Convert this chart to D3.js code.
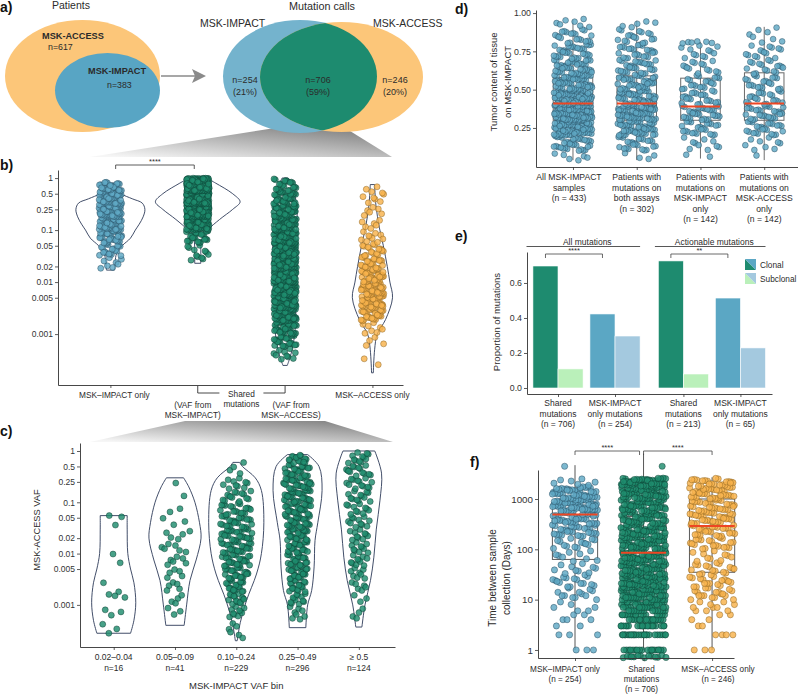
<!DOCTYPE html>
<html>
<head>
<meta charset="utf-8">
<script src="https://cdn.jsdelivr.net/npm/d3@7/dist/d3.min.js"></script>
<style>
html,body{margin:0;padding:0;background:#fff;}
svg{display:block;}
</style>
</head>
<body>
<svg id="fig" width="798" height="696"></svg>
<script>
// ================= DATA =================
// Panel a – Venn counts
const patientLabels = ["MSK-ACCESS", "MSK-IMPACT"];
const patientN = [617, 383];
const callLabels = ["MSK-IMPACT", "MSK-ACCESS"];
const callN = [254, 706, 246];
const callPct = [21, 59, 20];

// Panel b – VAF by call group (histograms: [log10 lo, log10 hi, count])
const bTickVals = [0.001, 0.005, 0.01, 0.02, 0.05, 0.1, 0.25, 0.5, 1];
const bTickLabels = ["0.001", "0.005", "0.01", "0.02", "0.05", "0.1", "0.25", "0.5", "1"];
const bBinsImpactOnly = [[-1.75,-1.5,8],[-1.5,-1.25,20],[-1.25,-1.0,35],[-1.0,-0.75,50],[-0.75,-0.5,60],[-0.5,-0.25,55],[-0.25,-0.07,26]];
const bBinsSharedImpact = [[-1.6,-1.25,12],[-1.25,-1.0,24],[-1.0,-0.75,90],[-0.75,-0.5,170],[-0.5,-0.25,200],[-0.25,0,210]];
const bBinsSharedAccess = [[-3.5,-3.25,10],[-3.25,-3,25],[-3,-2.75,40],[-2.75,-2.5,55],[-2.5,-2.25,65],[-2.25,-2,70],[-2,-1.75,75],[-1.75,-1.5,75],[-1.5,-1.25,70],[-1.25,-1,65],[-1,-0.75,55],[-0.75,-0.5,45],[-0.5,-0.25,35],[-0.25,0,21]];
const bBinsAccessOnly = [[-3.7,-3.25,2],[-3.25,-3,4],[-3,-2.75,8],[-2.75,-2.5,30],[-2.5,-2.25,45],[-2.25,-2,45],[-2,-1.75,38],[-1.75,-1.5,25],[-1.5,-1.25,17],[-1.25,-1,10],[-1,-0.75,6],[-0.75,-0.5,6],[-0.5,-0.12,10]];
// violin outlines: [VAF, relative half-width]
const bViolinImpactOnly = [[0.8,.11],[0.6,.18],[0.5,.25],[0.4,.5],[0.33,.73],[0.25,.79],[0.18,.75],[0.13,.66],[0.1,.57],[0.07,.46],[0.05,.27],[0.035,.14],[0.025,.11],[0.017,.09]];
const bViolinSharedImpact = [[0.95,.25],[0.8,.41],[0.5,.8],[0.35,.97],[0.25,.8],[0.16,.5],[0.1,.23],[0.065,.09],[0.036,.07],[0.023,.07]];
const bViolinSharedAccess = [[1,.07],[0.6,.18],[0.3,.27],[0.1,.27],[0.03,.29],[0.01,.27],[0.003,.25],[0.001,.22],[0.0005,.16],[0.00035,.11],[0.00025,.05]];
const bViolinAccessOnly = [[0.75,.05],[0.3,.08],[0.11,.16],[0.05,.25],[0.02,.34],[0.01,.4],[0.005,.46],[0.0019,.3],[0.001,.11],[0.0005,.05],[0.00018,.02]];

// Panel c – MSK-ACCESS VAF by MSK-IMPACT VAF bin
const cCats = ["0.02–0.04", "0.05–0.09", "0.10–0.24", "0.25–0.49", "≥ 0.5"];
const cN = [16, 41, 229, 296, 124];
const cBin1Vaf = [0.052,0.036,0.055,0.0066,0.0098,0.0027,0.0018,0.0016,0.0014,0.0015,0.0008,0.00073,0.00063,0.00042,0.00034,0.00028];
const cBins2 = [[-3.25,-3,3],[-3,-2.75,4],[-2.75,-2.5,5],[-2.5,-2.25,5],[-2.25,-2,6],[-2,-1.75,6],[-1.75,-1.5,5],[-1.5,-1.25,3],[-1.25,-1,2],[-1,-0.75,1],[-0.75,-0.5,1]];
const cBins3 = [[-3.7,-3.25,6],[-3.25,-3,10],[-3,-2.75,14],[-2.75,-2.5,20],[-2.5,-2.25,24],[-2.25,-2,26],[-2,-1.75,28],[-1.75,-1.5,28],[-1.5,-1.25,25],[-1.25,-1,20],[-1,-0.75,14],[-0.75,-0.5,10],[-0.5,-0.25,3],[-0.25,-0.2,1]];
const cBins4 = [[-3.3,-3,8],[-3,-2.75,12],[-2.75,-2.5,18],[-2.5,-2.25,22],[-2.25,-2,24],[-2,-1.75,25],[-1.75,-1.5,27],[-1.5,-1.25,28],[-1.25,-1,30],[-1,-0.75,32],[-0.75,-0.5,30],[-0.5,-0.25,25],[-0.25,-0.07,15]];
const cBins5 = [[-3.3,-3,4],[-3,-2.75,3],[-2.75,-2.5,6],[-2.5,-2.25,8],[-2.25,-2,10],[-2,-1.75,10],[-1.75,-1.5,10],[-1.5,-1.25,11],[-1.25,-1,11],[-1,-0.75,12],[-0.75,-0.5,13],[-0.5,-0.25,14],[-0.25,0,12]];
const cViolins = [
  [[0.055,.44],[0.03,.44],[0.01,.46],[0.005,.55],[0.0027,.66],[0.0011,.72],[0.0005,.66],[0.00028,.55]],
  [[0.3,.28],[0.2,.45],[0.1,.65],[0.04,.8],[0.02,.85],[0.0075,.69],[0.003,.49],[0.001,.38],[0.0004,.3]],
  [[0.6,.11],[0.5,.2],[0.3,.62],[0.17,.82],[0.04,.9],[0.01,.82],[0.004,.66],[0.0012,.33],[0.00045,.13],[0.0002,.03]],
  [[0.85,.33],[0.5,.7],[0.17,.8],[0.04,.66],[0.018,.57],[0.0055,.54],[0.0019,.46],[0.001,.33],[0.00036,.27]],
  [[1.0,.52],[0.37,.74],[0.11,.69],[0.03,.57],[0.0085,.49],[0.003,.38],[0.001,.2],[0.00037,.1]]
];

// Panel d – tumor content (histograms: [lo, hi, count]) and box stats
const dLabels = [
  ["All MSK-IMPACT", "samples", "(n = 433)"],
  ["Patients with", "mutations on", "both assays", "(n = 302)"],
  ["Patients with", "mutations on", "MSK-IMPACT", "only", "(n = 142)"],
  ["Patients with", "mutations on", "MSK-ACCESS", "only", "(n = 142)"]
];
const dTickVals = [0.25, 0.5, 0.75, 1.0];
const dTickLabels = ["0.25", "0.50", "0.75", "1.00"];
const dBins = [
  [[0.03,0.1,6],[0.1,0.2,35],[0.2,0.3,75],[0.3,0.4,90],[0.4,0.5,70],[0.5,0.6,55],[0.6,0.7,42],[0.7,0.8,32],[0.8,0.9,21],[0.9,0.97,7]],
  [[0.04,0.1,4],[0.1,0.2,25],[0.2,0.3,50],[0.3,0.4,62],[0.4,0.5,45],[0.5,0.6,38],[0.6,0.7,30],[0.7,0.8,25],[0.8,0.9,18],[0.9,0.96,5]],
  [[0.05,0.1,2],[0.1,0.2,10],[0.2,0.3,24],[0.3,0.4,32],[0.4,0.5,22],[0.5,0.6,20],[0.6,0.7,14],[0.7,0.8,12],[0.8,0.82,6]],
  [[0.04,0.1,1],[0.1,0.2,9],[0.2,0.3,25],[0.3,0.4,28],[0.4,0.5,20],[0.5,0.6,20],[0.6,0.7,17],[0.7,0.8,14],[0.8,0.92,8]]
];
const dQ1 = [0.30, 0.30, 0.30, 0.30];
const dMedian = [0.41, 0.41, 0.39, 0.41];
const dQ3 = [0.58, 0.59, 0.575, 0.61];
const dWhiskLo = [0.04, 0.04, 0.05, 0.04];
const dWhiskHi = [0.955, 0.95, 0.81, 0.91];

// Panel e – clonality proportions
const eFacets = ["All mutations", "Actionable mutations"];
const eGroupLabels = [
  ["Shared", "mutations", "(n = 706)"],
  ["MSK-IMPACT", "only mutations", "(n = 254)"],
  ["Shared", "mutations", "(n = 213)"],
  ["MSK-IMPACT", "only mutations", "(n = 65)"]
];
const eClonal = [0.697, 0.423, 0.726, 0.514];
const eSubclonal = [0.109, 0.297, 0.080, 0.229];
const eSignif = ["****", "**"];
const eTickVals = [0, 0.2, 0.4, 0.6];
const eTickLabels = ["0.0", "0.2", "0.4", "0.6"];
const eLegend = ["Clonal", "Subclonal"];

// Panel f – time between sample collection (histograms in log10 days)
const fLabels = [
  ["MSK–IMPACT only", "(n = 254)"],
  ["Shared", "mutations", "(n = 706)"],
  ["MSK–ACCESS only", "(n = 246)"]
];
const fTickVals = [1, 10, 100, 1000];
const fTickLabels = ["1", "10", "100", "1000"];
const fBins = [
  [[0,0.25,4],[0.25,0.5,3],[0.5,0.75,6],[0.75,1,6],[1,1.25,12],[1.25,1.5,16],[1.5,1.75,10],[1.75,2,9],[2,2.25,14],[2.25,2.5,28],[2.5,2.75,38],[2.75,3,55],[3,3.25,45],[3.25,3.42,7],[3.6,3.7,1]],
  [[-0.16,-0.1,14],[0,0.25,25],[0.25,0.5,30],[0.5,0.75,45],[0.75,1,55],[1,1.25,60],[1.25,1.5,60],[1.5,1.75,55],[1.75,2,50],[2,2.25,55],[2.25,2.5,50],[2.5,2.75,45],[2.75,3,50],[3,3.25,60],[3.25,3.42,51],[3.6,3.7,1]],
  [[0,0.25,4],[0.25,0.5,4],[0.5,0.75,5],[0.75,1,10],[1,1.25,18],[1.25,1.5,18],[1.5,1.75,16],[1.75,2,10],[2,2.25,20],[2.25,2.5,25],[2.5,2.75,31],[2.75,3,28],[3,3.25,35],[3.25,3.42,22]]
];
const fQ1 = [63, 13, 35];
const fMedian = [490, 85, 290];
const fQ3 = [850, 450, 1000];
const fWhiskLo = [1, 1, 1];
const fWhiskHi = [4700, 8000, 2700];

// ================= STYLE =================
const FONT = '"Liberation Sans", Arial, Helvetica, sans-serif';
const TXT = '#2b2b2b';
const C = {
  orangeV: '#fcc679', blueV: '#58a5c4', blueV2: '#74b3cd', greenV: '#1d8b6f',
  blue: '#5fa8c5', blueS: '#24485a', green: '#1e8c6e', greenS: '#0c3a2e',
  orange: '#f8b24c', orangeS: '#86601f', violin: '#2d3a58', box: '#5c5c5c', median: '#ee4623',
  eClonShared: '#1e8b6f', eSubShared: '#baf0ba', eClonImpact: '#5ba7c4', eSubImpact: '#a4c9df'
};

// ================= HELPERS =================
const PHI = 0.6180339887498949;
function vdc(n){ let v = 0, d = 1; while (n > 0){ d *= 2; v += (n % 2) / d; n = (n - (n % 2)) / 2; } return v; }
function frac(x){ return x - Math.floor(x); }
// deterministic placement of the counted points inside each histogram bin
function layoutBins(bins, seed){
  const out = []; let k = 0;
  bins.forEach(([lo, hi, n]) => {
    for (let i = 0; i < n; i++){ out.push({t: lo + (hi - lo) * vdc(i + 1), u: frac((k + 1) * PHI + seed)}); k++; }
  });
  return out;
}
function violinHW(shape, v){
  const lv = Math.log10(v);
  const p = shape.map(d => [Math.log10(d[0]), d[1]]);
  if (lv >= p[0][0]) return p[0][1];
  for (let i = 1; i < p.length; i++){
    if (lv >= p[i][0]){ const t = (lv - p[i][0]) / (p[i-1][0] - p[i][0]); return p[i][1] + t * (p[i-1][1] - p[i][1]); }
  }
  return p[p.length - 1][1];
}
function txt(g, x, y, s, o = {}){
  const t = g.append('text').attr('x', x).attr('y', y).text(s)
    .attr('fill', o.fill || TXT).attr('font-size', o.size || 8.5)
    .attr('text-anchor', o.anchor || 'start');
  if (o.weight) t.attr('font-weight', o.weight);
  if (o.rotate) t.attr('transform', `rotate(-90,${x},${y})`);
  return t;
}
function styleAxis(g, fs){
  g.attr('font-family', FONT);
  g.select('.domain').attr('stroke', '#333').attr('stroke-width', 0.9);
  g.selectAll('.tick line').attr('stroke', '#333').attr('stroke-width', 0.8);
  g.selectAll('.tick text').attr('fill', '#333').attr('font-size', fs);
}
function drawViolin(g, shape, cx, y, hs){
  const area = d3.area().curve(d3.curveCatmullRom.alpha(0.5))
    .y(d => y(d[0])).x0(d => cx - d[1] * hs).x1(d => cx + d[1] * hs);
  g.append('path').attr('d', area(shape)).attr('fill', 'none')
    .attr('stroke', C.violin).attr('stroke-width', 0.9);
}
function drawPts(g, pts, fill, stroke, r){
  g.selectAll(null).data(pts).enter().append('circle')
    .attr('cx', d => d.x).attr('cy', d => d.y).attr('r', r || 3)
    .attr('fill', fill).attr('fill-opacity', 0.82)
    .attr('stroke', stroke).attr('stroke-width', 0.5).attr('stroke-opacity', 0.9);
}

// ================= SVG =================
const svg = d3.select('#fig').attr('font-family', FONT);
svg.append('rect').attr('width', 798).attr('height', 696).attr('fill', '#fff');
const defs = svg.append('defs');
const grad = defs.append('linearGradient').attr('id', 'wedge')
  .attr('x1', 1).attr('y1', 0).attr('x2', 0.1).attr('y2', 1);
grad.append('stop').attr('offset', 0).attr('stop-color', '#787878');
grad.append('stop').attr('offset', 1).attr('stop-color', '#f6f6f6');

// panel letters
[['a)', 0, 12], ['b)', 0, 170], ['c)', 0, 436], ['d)', 455, 14], ['e)', 455, 241], ['f)', 470, 467]]
  .forEach(([s, x, y]) => txt(svg, x, y, s, {weight: 'bold', size: 14, fill: '#111'}));

// wedges (zoom indicators)
svg.append('path').attr('d', 'M275,128 L350,131 L392,157 L90,157 Z').attr('fill', 'url(#wedge)');
svg.append('path').attr('d', 'M185,421 L325,421 L393,442 L90,442 Z').attr('fill', 'url(#wedge)');

// ---------- Panel a ----------
const gA = svg.append('g');
gA.append('ellipse').attr('cx', 82.5).attr('cy', 76).attr('rx', 77.5).attr('ry', 56).attr('fill', C.orangeV);
gA.append('ellipse').attr('cx', 107.5).attr('cy', 90.5).attr('rx', 52.5).attr('ry', 37.5).attr('fill', C.blueV);
txt(gA, 71, 8.5, 'Patients', {anchor: 'middle', size: 10.5});
txt(gA, 42, 39, patientLabels[0], {weight: 'bold', size: 9.2});
txt(gA, 48, 50, 'n=' + patientN[0], {size: 8.8});
txt(gA, 88, 74, patientLabels[1], {weight: 'bold', size: 9.2});
txt(gA, 107, 88, 'n=' + patientN[1], {size: 8.8});
gA.append('line').attr('x1', 161).attr('y1', 76).attr('x2', 196).attr('y2', 76).attr('stroke', '#8a8a8a').attr('stroke-width', 1.6);
gA.append('path').attr('d', 'M192,69 L206,76 L192,83 L195,76 Z').attr('fill', '#8a8a8a');

defs.append('clipPath').attr('id', 'clipBlue').append('ellipse')
  .attr('cx', 300).attr('cy', 76.5).attr('rx', 77).attr('ry', 56.5);
gA.append('ellipse').attr('cx', 300).attr('cy', 76.5).attr('rx', 77).attr('ry', 56.5).attr('fill', C.blueV2);
gA.append('ellipse').attr('cx', 341.5).attr('cy', 77).attr('rx', 81.5).attr('ry', 55).attr('fill', C.orangeV);
gA.append('ellipse').attr('cx', 341.5).attr('cy', 77).attr('rx', 81.5).attr('ry', 55).attr('fill', C.greenV).attr('clip-path', 'url(#clipBlue)');
txt(gA, 322, 10, 'Mutation calls', {anchor: 'middle', size: 10.8});
txt(gA, 200, 27, callLabels[0], {size: 10.5});
txt(gA, 373, 27, callLabels[1], {size: 10.5});
const vennX = [245, 318, 395];
callN.forEach((n, i) => {
  txt(gA, vennX[i], 83, 'n=' + n, {anchor: 'middle', size: 9});
  txt(gA, vennX[i], 94.5, '(' + callPct[i] + '%)', {anchor: 'middle', size: 9});
});

// ---------- Panel b ----------
const gB = svg.append('g');
const yB = d3.scaleLog().domain([1.05e-4, 1.43]).range([385, 170]);
const xB = d3.scaleLinear().domain([0.4, 4.35]).range([58, 403]);
const hsB = (xB(2) - xB(1)) / 2;
const bBins = [bBinsImpactOnly, bBinsSharedImpact, bBinsSharedAccess, bBinsAccessOnly];
const bViolins = [bViolinImpactOnly, bViolinSharedImpact, bViolinSharedAccess, bViolinAccessOnly];
const bCol = [[C.blue, C.blueS], [C.green, C.greenS], [C.green, C.greenS], [C.orange, C.orangeS]];
bViolins.forEach((s, i) => drawViolin(gB, s, xB(i + 1), yB, hsB));
bBins.forEach((bins, i) => {
  const pts = layoutBins(bins, 0.13 * (i + 1)).map(p => ({
    x: xB(i + 1 + (p.u - 0.5) * 2 * 0.13), y: yB(Math.pow(10, p.t))
  }));
  drawPts(gB, pts, bCol[i][0], bCol[i][1], 3);
});
const axBy = gB.append('g').attr('transform', 'translate(58,0)')
  .call(d3.axisLeft(yB).tickValues(bTickVals).tickFormat((d, i) => bTickLabels[i]).tickSize(3).tickSizeOuter(0).tickPadding(2));
styleAxis(axBy, 8.5);
const axBx = gB.append('g').attr('transform', 'translate(0,385)')
  .call(d3.axisBottom(xB).tickValues([1, 2, 3, 4]).tickFormat('').tickSize(3).tickSizeOuter(0));
styleAxis(axBx, 8.5);
axBx.selectAll('.tick').filter(d => d === 2 || d === 3).remove();
txt(gB, xB(1) + 4, 397.5, 'MSK–IMPACT only', {anchor: 'middle', size: 8.3});
txt(gB, xB(4), 397.5, 'MSK–ACCESS only', {anchor: 'middle', size: 8.3});
// shared bracket
const shL = xB(2), shR = xB(3), shM = (shL + shR) / 2;
gB.append('path').attr('d', `M${shL},386 V393 H${shM - 22} M${shM + 22},393 H${shR} V386`)
  .attr('fill', 'none').attr('stroke', '#333').attr('stroke-width', 0.9);
txt(gB, shM, 396.5, 'Shared', {anchor: 'middle', size: 8.3});
txt(gB, shM, 407, 'mutations', {anchor: 'middle', size: 8.3});
txt(gB, xB(2) - 5, 407.5, '(VAF from', {anchor: 'middle', size: 8.3});
txt(gB, xB(2) - 5, 418, 'MSK–IMPACT)', {anchor: 'middle', size: 8.3});
txt(gB, xB(3) + 6, 407.5, '(VAF from', {anchor: 'middle', size: 8.3});
txt(gB, xB(3) + 6, 418, 'MSK–ACCESS)', {anchor: 'middle', size: 8.3});
// significance bracket
gB.append('path').attr('d', `M${xB(1.06)},169 V165 H${xB(1.96)} V169`).attr('fill', 'none').attr('stroke', '#333').attr('stroke-width', 0.8);
txt(gB, xB(1.51), 164, '****', {anchor: 'middle', size: 7.5});

// ---------- Panel c ----------
const gC = svg.append('g');
const yC = d3.scaleLog().domain([1.51e-4, 1.432]).range([647, 443]);
const xC = d3.scaleLinear().domain([0.45, 5.59]).range([80, 395]);
const hsC = (xC(2) - xC(1)) / 2;
cViolins.forEach((s, i) => drawViolin(gC, s, xC(i + 1), yC, hsC));
const cAll = [
  cBin1Vaf.map((v, i) => ({t: Math.log10(v), u: frac((i + 1) * PHI + 0.37)})),
  layoutBins(cBins2, 0.21), layoutBins(cBins3, 0.43), layoutBins(cBins4, 0.71), layoutBins(cBins5, 0.89)
];
cAll.forEach((pts, i) => {
  const P = pts.map(p => {
    const v = Math.pow(10, p.t);
    const hw = Math.max(0.6 * violinHW(cViolins[i], v) * hsC, 8);
    return {x: xC(i + 1) + (p.u - 0.5) * 2 * hw, y: yC(v)};
  });
  drawPts(gC, P, C.green, C.greenS, 3);
});
const axCy = gC.append('g').attr('transform', 'translate(80,0)')
  .call(d3.axisLeft(yC).tickValues(bTickVals).tickFormat((d, i) => bTickLabels[i]).tickSize(3).tickSizeOuter(0).tickPadding(2));
styleAxis(axCy, 8.5);
const axCx = gC.append('g').attr('transform', 'translate(0,647)')
  .call(d3.axisBottom(xC).tickValues([1, 2, 3, 4, 5]).tickFormat('').tickSize(3).tickSizeOuter(0));
styleAxis(axCx, 8.5);
cCats.forEach((c, i) => {
  txt(gC, xC(i + 1), 660, c, {anchor: 'middle', size: 8.5});
  txt(gC, xC(i + 1), 670.5, 'n=' + cN[i], {anchor: 'middle', size: 8.5});
});
txt(gC, xC(3), 689, 'MSK-IMPACT VAF bin', {anchor: 'middle', size: 9.5});
txt(gC, 39.5, 530, 'MSK-ACCESS VAF', {anchor: 'middle', size: 9.3, rotate: true});

// ---------- Panel d ----------
const gD = svg.append('g');
const yD = d3.scaleLinear().domain([-0.005, 1.02]).range([167, 10]);
const xD = d3.scaleLinear().domain([0.42, 4.53]).range([536, 798]);
dBins.forEach((bins, i) => {
  const cx = xD(i + 1);
  gD.append('line').attr('x1', cx).attr('x2', cx).attr('y1', yD(dWhiskLo[i])).attr('y2', yD(dWhiskHi[i])).attr('stroke', C.box).attr('stroke-width', 0.9);
  gD.append('rect').attr('x', xD(i + 1 - 0.31)).attr('width', xD(1.62) - xD(1))
    .attr('y', yD(dQ3[i])).attr('height', yD(dQ1[i]) - yD(dQ3[i]))
    .attr('fill', 'none').attr('stroke', '#6a6a6a').attr('stroke-width', 1);
});
dBins.forEach((bins, i) => {
  const pts = layoutBins(bins, 0.17 * (i + 1)).map(p => ({x: xD(i + 1 + (p.u - 0.5) * 2 * 0.3), y: yD(p.t)}));
  drawPts(gD, pts, C.blue, C.blueS, 2.9);
});
dBins.forEach((bins, i) => {
  gD.append('line').attr('x1', xD(i + 1 - 0.31)).attr('x2', xD(i + 1 + 0.31))
    .attr('y1', yD(dMedian[i])).attr('y2', yD(dMedian[i])).attr('stroke', C.median).attr('stroke-width', 2);
});
const axDy = gD.append('g').attr('transform', 'translate(536,0)')
  .call(d3.axisLeft(yD).tickValues(dTickVals).tickFormat((d, i) => dTickLabels[i]).tickSize(3).tickSizeOuter(0).tickPadding(2));
styleAxis(axDy, 8.8);
const axDx = gD.append('g').attr('transform', 'translate(0,167)')
  .call(d3.axisBottom(xD).tickValues([1, 2, 3, 4]).tickFormat('').tickSize(3).tickSizeOuter(0));
styleAxis(axDx, 8.5);
dLabels.forEach((lines, i) => lines.forEach((s, j) =>
  txt(gD, xD(i + 1) - (i === 0 ? 4 : 0), 180 + j * 10.5, s, {anchor: 'middle', size: 8.6})));
txt(gD, 497, 82, 'Tumor content of tissue', {anchor: 'middle', size: 9.5, rotate: true});
txt(gD, 511, 82, 'on MSK-IMPACT', {anchor: 'middle', size: 9.5, rotate: true});

// ---------- Panel e ----------
const gE = svg.append('g');
const yE = d3.scaleLinear().domain([-0.0343, 0.777]).range([394, 252]);
const xE = d3.scaleLinear().domain([0.456, 4.754]).range([527, 772]);
const ePos = eClonal.map((d, i) => Math.floor(i / 2) * 2.2 + (i % 2) + 1);
const eBarW = 0.44;
const eCol = [[C.eClonShared, C.eSubShared], [C.eClonImpact, C.eSubImpact]];
ePos.forEach((p, i) => {
  const cols = eCol[i % 2];
  gE.append('rect').attr('x', xE(p - eBarW)).attr('width', xE(p) - xE(p - eBarW))
    .attr('y', yE(eClonal[i])).attr('height', yE(0) - yE(eClonal[i]))
    .attr('fill', cols[0]).attr('stroke', '#fff').attr('stroke-width', 0.6);
  gE.append('rect').attr('x', xE(p)).attr('width', xE(p + eBarW) - xE(p))
    .attr('y', yE(eSubclonal[i])).attr('height', yE(0) - yE(eSubclonal[i]))
    .attr('fill', cols[1]).attr('stroke', '#fff').attr('stroke-width', 0.6);
  eGroupLabels[i].forEach((s, j) => txt(gE, xE(p), 406 + j * 10.5, s, {anchor: 'middle', size: 8.5}));
});
eFacets.forEach((f, k) => {
  const p0 = ePos[k * 2], p1 = ePos[k * 2 + 1];
  const l = xE(p0 - 0.5) - (k === 0 ? 3 : 0), r = xE(p1 + 0.44);
  gE.append('line').attr('x1', l).attr('x2', r).attr('y1', 246.5).attr('y2', 246.5).attr('stroke', '#444').attr('stroke-width', 0.9);
  txt(gE, (l + r) / 2 + 4, 244.5, f, {anchor: 'middle', size: 8.5});
  const a = xE(p0 - eBarW / 2), b = xE(p1 - eBarW / 2);
  gE.append('path').attr('d', `M${a},258 V254 H${b} V258`).attr('fill', 'none').attr('stroke', '#444').attr('stroke-width', 0.8);
  txt(gE, (a + b) / 2, 253, eSignif[k], {anchor: 'middle', size: 7.5});
});
const axEy = gE.append('g').attr('transform', 'translate(527,0)')
  .call(d3.axisLeft(yE).tickValues(eTickVals).tickFormat((d, i) => eTickLabels[i]).tickSize(3).tickSizeOuter(0).tickPadding(2));
styleAxis(axEy, 8.8);
const axEx = gE.append('g').attr('transform', 'translate(0,394)')
  .call(d3.axisBottom(xE).tickValues(ePos).tickFormat('').tickSize(3).tickSizeOuter(0));
styleAxis(axEx, 8.5);
txt(gE, 500, 322, 'Proportion of mutations', {anchor: 'middle', size: 9.5, rotate: true});
// legend
const legKeys = [[C.eClonShared, C.eClonImpact], [C.eSubShared, C.eSubImpact]];
eLegend.forEach((s, i) => {
  const y0 = 259 + i * 14, x0 = 745, w = 11;
  gE.append('path').attr('d', `M${x0},${y0} L${x0 + w},${y0 + w} L${x0},${y0 + w} Z`).attr('fill', legKeys[i][0]);
  gE.append('path').attr('d', `M${x0},${y0} L${x0 + w},${y0} L${x0 + w},${y0 + w} Z`).attr('fill', legKeys[i][1]);
  txt(gE, 760, y0 + 9, s, {size: 8.3});
});

// ---------- Panel f ----------
const gF = svg.append('g');
const yF = d3.scaleLog().domain([0.693, 3767]).range([658, 470]);
const xF = d3.scaleLinear().domain([0.46, 3.32]).range([538, 734]);
const fCol = [[C.blue, C.blueS], [C.green, C.greenS], [C.orange, C.orangeS]];
fBins.forEach((bins, i) => {
  const cx = xF(i + 1);
  gF.append('line').attr('x1', cx).attr('x2', cx).attr('y1', yF(fWhiskLo[i])).attr('y2', yF(fWhiskHi[i])).attr('stroke', '#444').attr('stroke-width', 0.9);
  gF.append('rect').attr('x', xF(i + 1 - 0.33)).attr('width', xF(1.66) - xF(1))
    .attr('y', yF(fQ3[i])).attr('height', yF(fQ1[i]) - yF(fQ3[i]))
    .attr('fill', 'none').attr('stroke', '#5a5a5a').attr('stroke-width', 1);
});
fBins.forEach((bins, i) => {
  const pts = layoutBins(bins, 0.29 * (i + 1)).map(p => {
    const raw = Math.pow(10, p.t);
    const v = p.t < 0 ? raw : Math.max(1, Math.round(raw));
    return {x: xF(i + 1 + (p.u - 0.5) * 2 * 0.33), y: yF(v)};
  });
  drawPts(gF, pts, fCol[i][0], fCol[i][1], 3.1);
});
fBins.forEach((bins, i) => {
  gF.append('line').attr('x1', xF(i + 1 - 0.33)).attr('x2', xF(i + 1 + 0.33))
    .attr('y1', yF(fMedian[i])).attr('y2', yF(fMedian[i])).attr('stroke', C.median).attr('stroke-width', 2);
});
const axFy = gF.append('g').attr('transform', 'translate(538,0)')
  .call(d3.axisLeft(yF).tickValues(fTickVals).tickFormat((d, i) => fTickLabels[i]).tickSize(3).tickSizeOuter(0).tickPadding(2));
styleAxis(axFy, 9.8);
const axFx = gF.append('g').attr('transform', 'translate(0,658)')
  .call(d3.axisBottom(xF).tickValues([1, 2, 3]).tickFormat('').tickSize(3).tickSizeOuter(0));
styleAxis(axFx, 8.5);
const fLabelX = d3.scaleLinear().domain([1, 3]).range([565, 718]);
fLabels.forEach((lines, i) => lines.forEach((s, j) =>
  txt(gF, fLabelX(i + 1), 671.5 + j * 10.3, s, {anchor: 'middle', size: 8.2})));
[[1, 2, '****'], [2, 3, '****']].forEach(([a, b, s]) => {
  const xl = xF(a), xr = b === 2 ? xF(b) - 4 : xF(b);
  gF.append('path').attr('d', `M${xl},455 V451 H${xr} V455`).attr('fill', 'none').attr('stroke', '#444').attr('stroke-width', 0.8);
  txt(gF, (xl + xr) / 2, 449.5, s, {anchor: 'middle', size: 7.5});
});
txt(gF, 496, 578, 'Time between sample', {anchor: 'middle', size: 10, rotate: true});
txt(gF, 510, 578, 'collection (Days)', {anchor: 'middle', size: 10, rotate: true});
</script>
</body>
</html>
